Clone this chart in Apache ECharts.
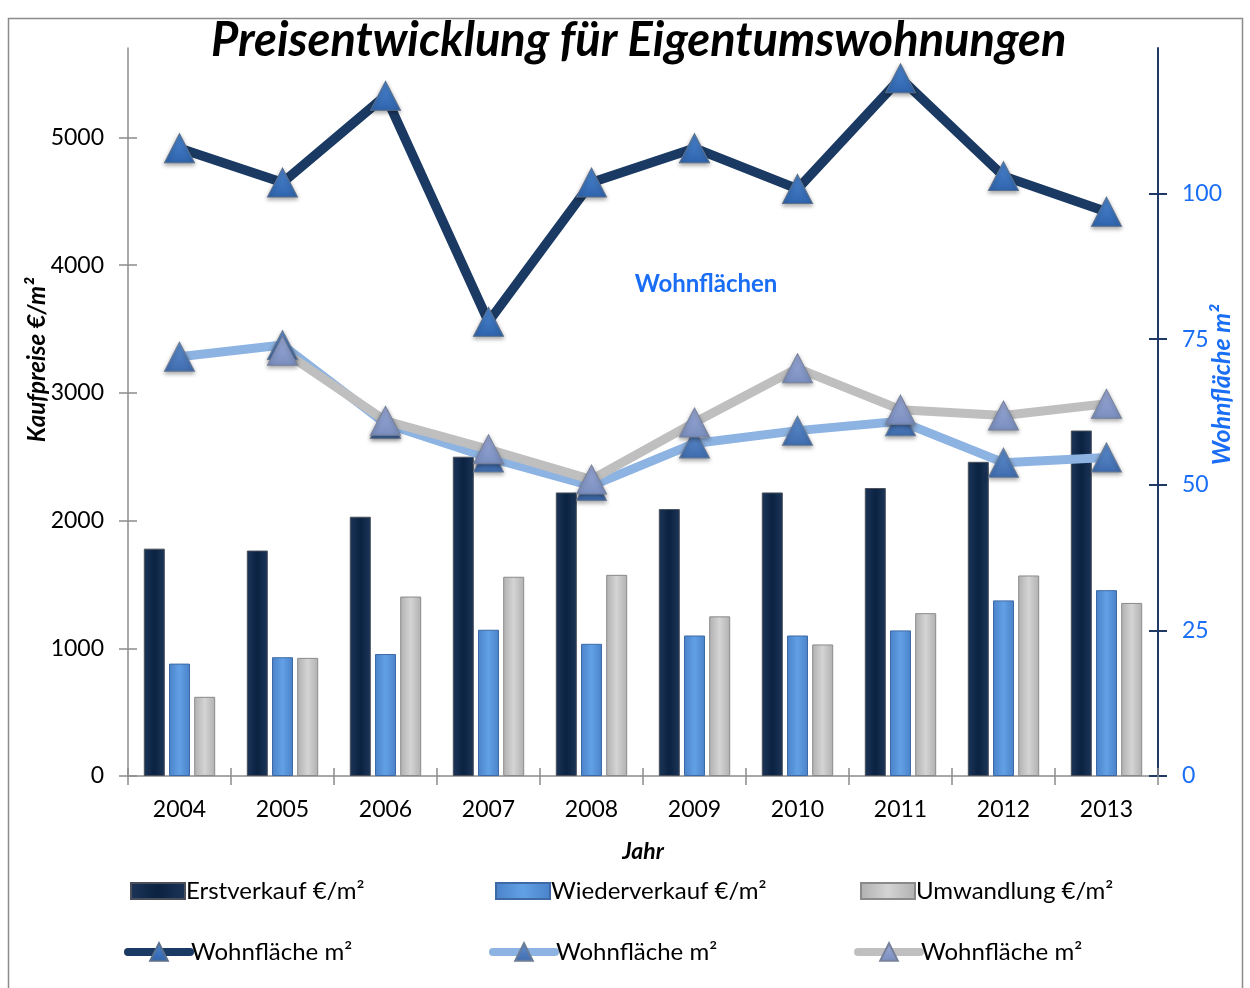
<!DOCTYPE html>
<html>
<head>
<meta charset="utf-8">
<script src="https://cdn.jsdelivr.net/npm/echarts@6/dist/echarts.min.js"></script>
<style>
html,body{margin:0;padding:0;background:#fff;}
#c{width:1250px;height:988px;}
</style>
</head>
<body>
<div id="c"></div>
<script>
const years = ['2004','2005','2006','2007','2008','2009','2010','2011','2012','2013'];
const erstverkauf = [1780, 1765, 2030, 2500, 2220, 2090, 2220, 2255, 2460, 2705];
const wiederverkauf = [880, 930, 955, 1145, 1035, 1100, 1100, 1140, 1375, 1455];
const umwandlung = [620, 925, 1405, 1560, 1575, 1250, 1030, 1275, 1570, 1355];
const flaecheErst = [107.8, 101.9, 116.8, 78.0, 101.9, 107.8, 100.8, 119.8, 103.0, 96.9];
const flaecheWieder = [72.0, 74.0, 60.5, 54.7, 49.8, 57.1, 59.3, 60.9, 53.8, 54.7];
const flaecheUmw = [null, 73.0, 61.0, 56.1, 50.9, 60.7, 70.0, 62.9, 61.9, 63.9];
const leftTicks = [0, 1000, 2000, 3000, 4000, 5000];
const rightTicks = [0, 25, 50, 75, 100];

const FONT = 'Lato';
const BLUE_TXT = '#1a6ef5';

function hgrad(a, b) {
  return {type:'linear', x:0, y:0, x2:1, y2:0, colorStops:[
    {offset:0, color:a},{offset:0.5, color:b},{offset:1, color:a}]};
}
function vgrad(a, b) {
  return {type:'linear', x:0, y:0, x2:0, y2:1, colorStops:[
    {offset:0, color:a},{offset:1, color:b}]};
}

const chart = echarts.init(document.getElementById('c'));

const barBase = {type:'bar', xAxisIndex:0, yAxisIndex:0, barWidth:21, barGap:'20%', z:2};
const lineBase = {type:'line', xAxisIndex:0, yAxisIndex:1, symbol:'triangle', symbolSize:[30,29], z:5};

function legendBar(name, left, top) {
  return {data:[{name:name, icon:'rect'}], left:left, top:top, itemWidth:54, itemHeight:16, itemGap:0,
    textStyle:{fontFamily:FONT, fontSize:24, color:'#000', padding:[0,0,0,-4]}, padding:0};
}
function legendLine(name, left, top, col) {
  return {data:[name], left:left, top:top, itemWidth:62, itemHeight:22, itemGap:0,
    lineStyle:{width:8, color:col, cap:'round'},
    textStyle:{fontFamily:FONT, fontSize:24, color:'#000', padding:[0,0,0,-4]}, padding:0};
}

chart.setOption({
  animation:false,
  backgroundColor:'#fff',
  title:{text:'Preisentwicklung für Eigentumswohnungen', left:206, top:12,
    textStyle:{fontFamily:FONT, fontSize:47, fontWeight:'bold', fontStyle:'italic', color:'#000'}},
  grid:{left:128, right:92, top:48, bottom:212},
  legend:[
    legendBar('Erstverkauf €/m²', 130, 879),
    legendBar('Wiederverkauf €/m²', 495, 879),
    legendBar('Umwandlung €/m²', 860, 879),
    legendLine('Wohnfläche m² ', 124, 940, '#1b3a63'),
    legendLine('Wohnfläche m²  ', 489, 940, '#8db3e2'),
    legendLine('Wohnfläche m²   ', 854, 940, '#bfbfbf')
  ],
  xAxis:[
    {type:'category', data:years, position:'bottom',
     axisLine:{lineStyle:{color:'#8c8c8c', width:1.5}},
     axisTick:{show:true, alignWithLabel:false, length:9, lineStyle:{color:'#8c8c8c', width:1.5}},
     axisLabel:{fontFamily:FONT, fontSize:23, color:'#000', margin:22},
     name:'Jahr', nameLocation:'middle', nameGap:64,
     nameTextStyle:{fontFamily:FONT, fontSize:23, fontWeight:'bold', fontStyle:'italic', color:'#000'}},
    {type:'category', data:years, position:'bottom',
     axisLine:{show:false}, axisLabel:{show:false},
     axisTick:{show:true, inside:true, alignWithLabel:false, length:8, lineStyle:{color:'#8c8c8c', width:1.5}}}
  ],
  yAxis:[
    {type:'value', min:0, max:5700, interval:1000, position:'left',
     splitLine:{show:false},
     axisLine:{show:true, lineStyle:{color:'#8c8c8c', width:1.5}},
     axisTick:{show:true, length:9, customValues:leftTicks, lineStyle:{color:'#8c8c8c', width:1.5}},
     axisLabel:{fontFamily:FONT, fontSize:23, color:'#000', margin:24, customValues:leftTicks,
       formatter:function(v){return String(v);}}},
    {type:'value', min:0, max:125, interval:25, position:'right',
     splitLine:{show:false},
     axisLine:{show:true, lineStyle:{color:'#1f3864', width:2}},
     axisTick:{show:true, length:9, customValues:rightTicks, lineStyle:{color:'#1f3864', width:2}},
     axisLabel:{fontFamily:FONT, fontSize:23, color:BLUE_TXT, margin:24, customValues:rightTicks,
       formatter:function(v){return String(v);}}},
    {type:'value', min:0, max:5700, position:'left', splitLine:{show:false},
     axisLine:{show:false}, axisLabel:{show:false},
     axisTick:{show:true, inside:true, length:9, customValues:leftTicks, lineStyle:{color:'#8c8c8c', width:1.5}}},
    {type:'value', min:0, max:125, position:'right', splitLine:{show:false},
     axisLine:{show:false}, axisLabel:{show:false},
     axisTick:{show:true, inside:true, length:9, customValues:rightTicks, lineStyle:{color:'#1f3864', width:2}}}
  ],
  graphic:[
    {type:'rect', shape:{x:8.5, y:18.5, width:1234, height:980}, style:{fill:'none', stroke:'#8c8c8c', lineWidth:1.5}, silent:true},
    {type:'text', x:37, y:360, rotation:Math.PI/2,
     style:{text:'Kaufpreise €/m²', fontFamily:FONT, fontSize:24, fontWeight:'bold', fontStyle:'italic', fill:'#000', align:'center', verticalAlign:'middle'}},
    {type:'text', x:1222, y:385, rotation:Math.PI/2,
     style:{text:'Wohnfläche m²', fontFamily:FONT, fontSize:25, fontWeight:'bold', fontStyle:'italic', fill:BLUE_TXT, align:'center', verticalAlign:'middle'}},
    {type:'text', x:706, y:284,
     style:{text:'Wohnflächen', fontFamily:FONT, fontSize:24, fontWeight:'bold', fill:BLUE_TXT, align:'center', verticalAlign:'middle'}}
  ],
  series:[
    Object.assign({}, barBase, {name:'Erstverkauf €/m²', data:erstverkauf,
      itemStyle:{color:hgrad('#1c3558','#0b2241'), borderColor:'#4a4f5a', borderWidth:1}}),
    Object.assign({}, barBase, {name:'Wiederverkauf €/m²', data:wiederverkauf,
      itemStyle:{color:hgrad('#4a82c8','#62a0e6'), borderColor:'#3d6aa5', borderWidth:1}}),
    Object.assign({}, barBase, {name:'Umwandlung €/m²', data:umwandlung,
      itemStyle:{color:hgrad('#b0b0b0','#d4d4d4'), borderColor:'#8a8a8a', borderWidth:1}}),
    Object.assign({}, lineBase, {name:'Wohnfläche m² ', data:flaecheErst,
      lineStyle:{width:9.5, color:'#1b3a63', cap:'round', join:'round'},
      itemStyle:{color:vgrad('#4b86d0','#2f64ad'), borderColor:'#5a6f8c', borderWidth:1, shadowBlur:4, shadowColor:'rgba(0,0,0,0.35)', shadowOffsetY:2}}),
    Object.assign({}, lineBase, {name:'Wohnfläche m²  ', data:flaecheWieder,
      lineStyle:{width:9, color:'#8db3e2', cap:'round', join:'round'},
      itemStyle:{color:vgrad('#5f8fd0','#3f6cae'), borderColor:'#6a7c96', borderWidth:1, shadowBlur:4, shadowColor:'rgba(0,0,0,0.35)', shadowOffsetY:2}}),
    Object.assign({}, lineBase, {name:'Wohnfläche m²   ', data:flaecheUmw, connectNulls:false,
      lineStyle:{width:9, color:'#bfbfbf', cap:'round', join:'round'},
      itemStyle:{color:vgrad('#9aa9d6','#7a8fc0'), borderColor:'#77819a', borderWidth:1, shadowBlur:4, shadowColor:'rgba(0,0,0,0.35)', shadowOffsetY:2}})
  ]
});
</script>
</body>
</html>
